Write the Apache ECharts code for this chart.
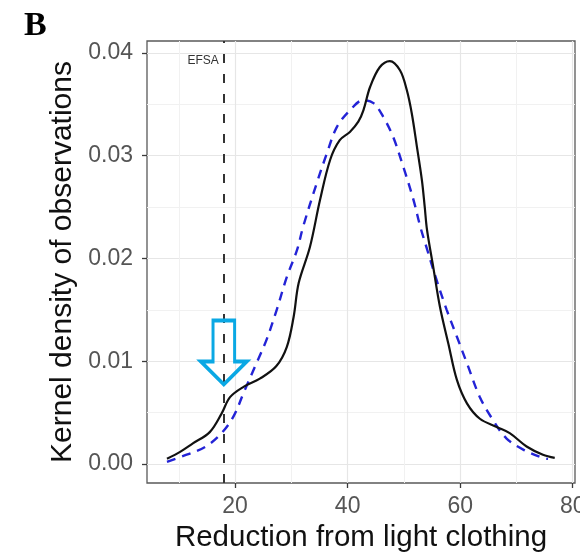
<!DOCTYPE html>
<html>
<head>
<meta charset="utf-8">
<script src="https://cdn.jsdelivr.net/npm/echarts@6/dist/echarts.min.js"></script>
<style>
  html, body { margin: 0; padding: 0; background: #fff; }
  #chart { width: 580px; height: 554px; }
</style>
</head>
<body>
<div id="chart"></div>
<script>
// Kernel density of observed reductions (solid black)
const kernelX = [7.9, 10.3, 12.5, 15.5, 17.6, 19.1, 21.5, 24.4, 27.3, 29.2, 30.4, 31.3, 33.3, 35.1, 36.9, 38.6, 40.4, 41.9, 42.8, 44.0, 45.7, 47.5, 49.3, 50.5, 51.4, 52.3, 53.2, 53.7, 54.1, 55.2, 56.4, 57.9, 59.4, 61.2, 63.5, 66.5, 68.8, 71.8, 74.7, 76.8];
const kernelY = [0.0005, 0.0012, 0.0020, 0.0031, 0.0049, 0.0065, 0.0075, 0.0083, 0.0095, 0.0114, 0.0143, 0.0176, 0.0211, 0.0257, 0.0296, 0.0315, 0.0323, 0.0333, 0.0344, 0.0367, 0.0386, 0.0392, 0.0383, 0.0364, 0.0341, 0.0309, 0.0276, 0.0250, 0.0228, 0.0192, 0.0153, 0.0117, 0.0082, 0.0059, 0.0044, 0.0036, 0.0030, 0.0017, 0.0009, 0.0006];

// Fitted reference density (dashed blue)
const fitX = [7.9, 11.4, 14.8, 17.6, 19.7, 21.5, 23.8, 25.6, 27.4, 29.2, 31.0, 32.1, 34.5, 36.3, 38.1, 40.4, 42.8, 44.6, 46.3, 48.1, 49.9, 51.7, 52.9, 54.0, 55.8, 57.6, 59.4, 61.2, 63.5, 65.8, 68.2, 71.2, 74.7, 75.6];
const fitY = [0.0002, 0.0009, 0.0017, 0.0030, 0.0046, 0.0069, 0.0098, 0.0121, 0.0150, 0.0182, 0.0208, 0.0231, 0.0273, 0.0302, 0.0328, 0.0344, 0.0354, 0.0351, 0.0338, 0.0318, 0.0289, 0.0257, 0.0231, 0.0211, 0.0179, 0.0150, 0.0124, 0.0098, 0.0065, 0.0043, 0.0025, 0.0014, 0.0006, 0.0005];

// Axes
const xTicks = [20, 40, 60, 80];
const xMinorTicks = [10, 30, 50, 70];
const yTicks = [0.00, 0.01, 0.02, 0.03, 0.04];
const yMinorTicks = [0.005, 0.015, 0.025, 0.035];

// EFSA threshold and marker
const efsaX = 18;
const efsaLabelY = 0.0392;
const arrowY = 0.01085;

const xRange = [4.35, 80.4];
const yRange = [-0.00185, 0.04115];

const FONT = "'Liberation Sans', Arial, Helvetica, sans-serif";

const zip = (a, b) => a.map((v, i) => [v, b[i]]);

const chart = echarts.init(document.getElementById('chart'), null, { renderer: 'canvas' });

const majorGrid = { show: true, lineStyle: { color: '#e6e6e6', width: 1.2 } };
const minorGrid = { show: true, lineStyle: { color: '#f1f1f1', width: 1 } };

chart.setOption({
  animation: false,
  backgroundColor: '#ffffff',
  graphic: [{
    type: 'text',
    left: 24,
    top: 9,
    style: { text: 'B', font: "bold 34px 'Liberation Serif', 'Times New Roman', serif", fill: '#000' }
  }],
  grid: {
    left: 147, right: 5, top: 41, bottom: 71,
    outerBoundsMode: 'none',
    containLabel: false,
    show: true, borderColor: '#595959', borderWidth: 1.3, backgroundColor: 'transparent'
  },
  xAxis: [{
    type: 'value',
    min: xRange[0], max: xRange[1],
    name: 'Reduction from light clothing',
    nameLocation: 'middle',
    nameGap: 39,
    nameTextStyle: { fontFamily: FONT, fontSize: 29.5, color: '#111' },
    axisLine: { show: false, onZero: false },
    axisTick: { show: true, inside: false, length: 5, customValues: xTicks, lineStyle: { color: '#3a3a3a', width: 1.3 } },
    axisLabel: { show: true, customValues: xTicks, margin: 12, fontFamily: FONT, fontSize: 23, color: '#555' },
    splitLine: majorGrid
  }, {
    type: 'value',
    min: xRange[0], max: xRange[1],
    position: 'bottom',
    axisLine: { show: false, onZero: false },
    axisTick: { show: false, customValues: xMinorTicks },
    axisLabel: { show: false, customValues: xMinorTicks },
    splitLine: minorGrid
  }],
  yAxis: [{
    type: 'value',
    min: yRange[0], max: yRange[1],
    name: 'Kernel density of observations',
    nameLocation: 'middle',
    nameGap: 66,
    nameTextStyle: { fontFamily: FONT, fontSize: 30, color: '#111' },
    axisLine: { show: false, onZero: false },
    axisTick: { show: true, inside: false, length: 5, customValues: yTicks, lineStyle: { color: '#3a3a3a', width: 1.3 } },
    axisLabel: {
      show: true, customValues: yTicks, margin: 14, fontFamily: FONT, fontSize: 23, color: '#555',
      formatter: v => v.toFixed(2)
    },
    splitLine: majorGrid
  }, {
    type: 'value',
    min: yRange[0], max: yRange[1],
    position: 'left',
    axisLine: { show: false, onZero: false },
    axisTick: { show: false, customValues: yMinorTicks },
    axisLabel: { show: false, customValues: yMinorTicks },
    splitLine: minorGrid
  }],
  series: [{
    name: 'fit',
    type: 'line',
    xAxisIndex: 0, yAxisIndex: 0,
    data: zip(fitX, fitY),
    showSymbol: false,
    smooth: 0.35,
    z: 3,
    lineStyle: { color: '#2323d6', width: 2.4, type: [9, 7] }
  }, {
    name: 'kernel',
    type: 'line',
    xAxisIndex: 0, yAxisIndex: 0,
    data: zip(kernelX, kernelY),
    showSymbol: false,
    smooth: 0.35,
    z: 4,
    lineStyle: { color: '#111111', width: 2.2 },
    markLine: {
      silent: true,
      symbol: 'none',
      label: { show: false },
      lineStyle: { color: '#333333', width: 2, type: [9, 11] },
      data: [{ xAxis: efsaX }]
    },
    markPoint: {
      silent: true,
      data: [{
        coord: [efsaX, efsaLabelY],
        symbol: 'rect',
        symbolSize: 0,
        itemStyle: { color: 'rgba(0,0,0,0)' },
        label: {
          show: true, position: 'left', distance: 5, formatter: 'EFSA',
          fontFamily: FONT, fontSize: 12, color: '#333'
        }
      }, {
        coord: [efsaX, arrowY],
        symbol: 'path://M13,0 L36,0 L36,43 L49,43 L24.5,67 L0,43 L13,43 Z',
        symbolSize: [46, 64],
        symbolKeepAspect: false,
        itemStyle: { color: 'rgba(0,0,0,0)', borderColor: '#0aa8e4', borderWidth: 3.5 },
        label: { show: false }
      }]
    }
  }]
});
</script>
</body>
</html>
